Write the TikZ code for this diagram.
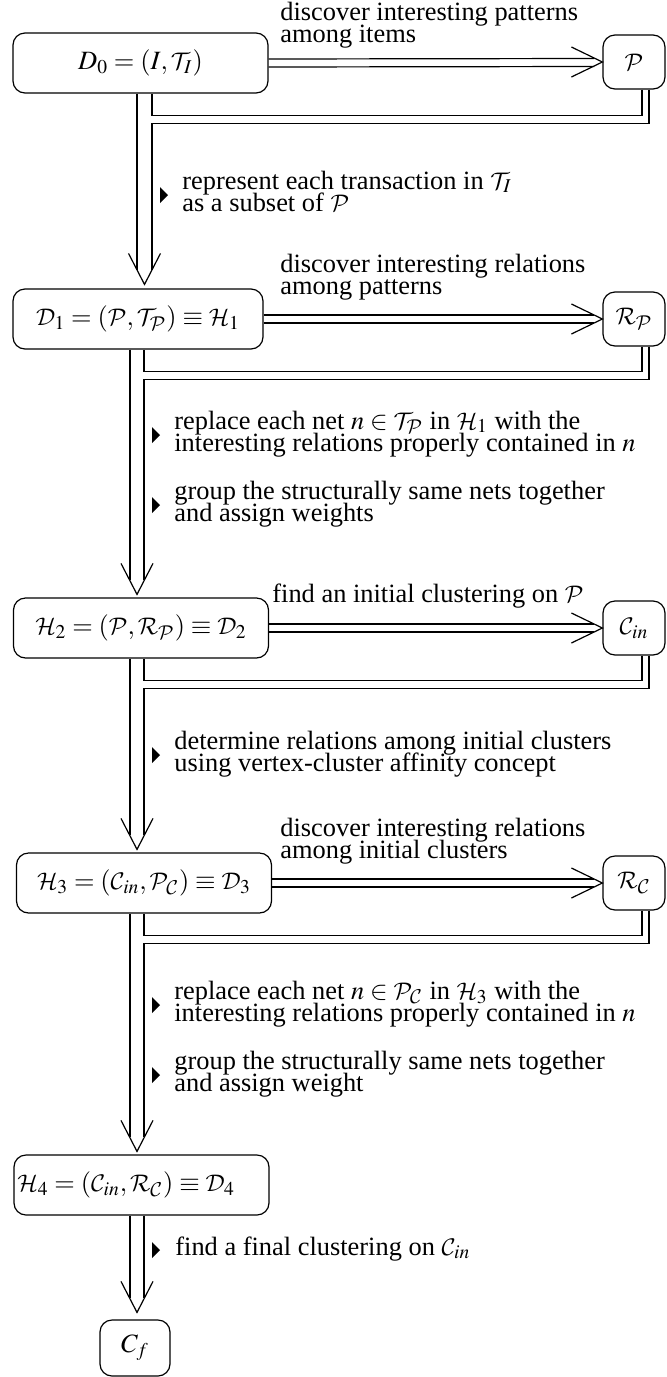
\documentclass[tikz,border=0pt]{standalone}
\usepackage{mathptmx}
\DeclareMathAlphabet{\mathcal}{OMS}{cmsy}{m}{n}
\usepackage[no-math]{fontspec}
\setmainfont{Liberation Serif}
\usetikzlibrary{calc}
\tikzset{
  conn/.style={line width=0.6pt, line join=miter},
  mainbox/.style={draw, line width=0.6pt, rounded corners=6pt, minimum width=127.5pt, minimum height=30pt, inner sep=0pt},
  sidebox/.style={draw, line width=0.6pt, rounded corners=6pt, minimum width=31pt, minimum height=27pt, inner sep=0pt},
  lbl/.style={anchor=base west, inner sep=0pt},
  tri/.style={fill=black}
}
\newcommand\chevdown[1]{\draw[conn] ($(#1)+(-16,-31)$) -- (#1) -- ($(#1)+(16,-31)$);}
\newcommand\chevright[1]{\draw[conn] ($(#1)+(-31,-15)$) -- (#1) -- ($(#1)+(-31,15)$);}
\newcommand\trimark[2]{\fill[tri] (#1,#2-8) -- (#1+8,#2) -- (#1,#2+8) -- cycle;}
\begin{document}
\begin{tikzpicture}[x=0.5pt,y=-0.5pt,font=\fontsize{13.2pt}{10.5pt}\selectfont]
\useasboundingbox (0,0) rectangle (666,1377);

% ---------- nodes ----------
\node[mainbox] (d0) at (140.5,63) {$D_0 = (I,\mathcal{T}_I)$};
\node[sidebox] (p)  at (634,62) {$\mathcal{P}$};
\node[mainbox, minimum width=125pt] (h1) at (138,319) {$\mathcal{D}_1 = (\mathcal{P},\mathcal{T}_{\mathcal{P}}) \equiv \mathcal{H}_1$};
\node[sidebox] (rp) at (634,319) {$\mathcal{R}_{\mathcal{P}}$};
\node[mainbox] (h2) at (141,628) {$\mathcal{H}_2 = (\mathcal{P},\mathcal{R}_{\mathcal{P}}) \equiv \mathcal{D}_2$};
\node[sidebox] (cin) at (634,628) {$\mathcal{C}_{in}$};
\node[mainbox] (h3) at (144,883) {$\mathcal{H}_3 = (\mathcal{C}_{in},\mathcal{P}_{\mathcal{C}}) \equiv \mathcal{D}_3$};
\node[sidebox] (rc) at (634,883) {$\mathcal{R}_{\mathcal{C}}$};
\node[mainbox] (h4) at (141.5,1185) {\makebox[126pt][l]{\hspace{1pt}$\mathcal{H}_4 = (\mathcal{C}_{in},\mathcal{R}_{\mathcal{C}}) \equiv \mathcal{D}_4$}};
\node[sidebox, minimum width=35pt, minimum height=28pt] (cf) at (135,1348) {$C_f$};

% tips of vertical arrows
\coordinate (t0) at ($(h1.north)+(6.5,-4)$);
\coordinate (t1) at ($(h2.north)+(-4,-3)$);
\coordinate (t2) at ($(h3.north)+(-7,-3)$);
\coordinate (t3) at ($(h4.north)+(-4.5,-3)$);
\coordinate (t4) at ($(cf.north)+(2,-7)$);

% ---------- row 0 ----------
\draw[conn] ($(d0.east)+(0,-4)$) -- ($(p.west)+(-8,-3.5)$);
\draw[conn] ($(d0.east)+(0,4)$) -- ($(p.west)+(-8,4.5)$);
\chevright{p.west}
\draw[conn] ($(p.south)+(8,0)$) |- ($(d0.south)+(11.5,22)$) -- ($(d0.south)+(11.5,0)$);
\draw[conn] ($(p.south)+(15,0)$) |- ($(d0.south)+(11.5,30)$) -- ($(t0)+(7.5,-14.5)$);
\draw[conn] ($(d0.south)+(-3.5,0)$) -- ($(t0)+(-7.5,-14.5)$);
\chevdown{t0}
\node[lbl] (l0a) at (280,20) {discover interesting patterns};
\node[lbl] (l0b) at (280,42) {among items};
\trimark{160}{195}
\node[lbl] (v0a) at (182,189) {represent each transaction in $\mathcal{T}_I$};
\node[lbl] (v0b) at (182,211) {as a subset of $\mathcal{P}$};

% ---------- row 1 ----------
\draw[conn] ($(h1.east)+(0,-4)$) -- ($(rp.west)+(-8,-4)$);
\draw[conn] ($(h1.east)+(0,4)$) -- ($(rp.west)+(-8,4)$);
\chevright{rp.west}
\draw[conn] ($(rp.south)+(8,0)$) |- ($(h1.south)+(6,22)$) -- ($(h1.south)+(6,0)$);
\draw[conn] ($(rp.south)+(15,0)$) |- ($(h1.south)+(6,30)$) -- ($(t1)+(7,-14)$);
\draw[conn] ($(h1.south)+(-8,0)$) -- ($(t1)+(-7,-14)$);
\chevdown{t1}
\node[lbl] (l1a) at (280,272) {discover interesting relations};
\node[lbl] (l1b) at (280,294) {among patterns};
\trimark{152}{435}
\node[lbl] (v1a) at (174,429) {replace each net $n \in \mathcal{T}_{\mathcal{P}}$ in $\mathcal{H}_1$ with the};
\node[lbl] (v1b) at (174,451) {interesting relations properly contained in $n$};
\trimark{152}{505}
\node[lbl] (v1c) at (174,499) {group the structurally same nets together};
\node[lbl] (v1d) at (174,521) {and assign weights};

% ---------- row 2 ----------
\draw[conn] ($(h2.east)+(0,-4)$) -- ($(cin.west)+(-8,-4)$);
\draw[conn] ($(h2.east)+(0,4)$) -- ($(cin.west)+(-8,4)$);
\chevright{cin.west}
\draw[conn] ($(cin.south)+(8,0)$) |- ($(h2.south)+(3,22)$) -- ($(h2.south)+(3,0)$);
\draw[conn] ($(cin.south)+(15,0)$) |- ($(h2.south)+(3,30)$) -- ($(t2)+(7,-14)$);
\draw[conn] ($(h2.south)+(-11,0)$) -- ($(t2)+(-7,-14)$);
\chevdown{t2}
\node[lbl] (l2a) at (272,602) {find an initial clustering on $\mathcal{P}$};
\trimark{152}{755}
\node[lbl] (v2a) at (174,749) {determine relations among initial clusters};
\node[lbl] (v2b) at (174,771) {using vertex-cluster affinity concept};

% ---------- row 3 ----------
\draw[conn] ($(h3.east)+(0,-4)$) -- ($(rc.west)+(-8,-4)$);
\draw[conn] ($(h3.east)+(0,4)$) -- ($(rc.west)+(-8,4)$);
\chevright{rc.west}
\draw[conn] ($(rc.south)+(8,0)$) |- ($(h3.south)+(0,22)$) -- (h3.south);
\draw[conn] ($(rc.south)+(15,0)$) |- ($(h3.south)+(0,30)$) -- ($(t3)+(7,-14)$);
\draw[conn] ($(h3.south)+(-14,0)$) -- ($(t3)+(-7,-14)$);
\chevdown{t3}
\node[lbl] (l3a) at (280,836) {discover interesting relations};
\node[lbl] (l3b) at (280,858) {among initial clusters};
\trimark{152}{1005}
\node[lbl] (v3a) at (174,999) {replace each net $n \in \mathcal{P}_{\mathcal{C}}$ in $\mathcal{H}_3$ with the};
\node[lbl] (v3b) at (174,1021) {interesting relations properly contained in $n$};
\trimark{152}{1075}
\node[lbl] (v3c) at (174,1069) {group the structurally same nets together};
\node[lbl] (v3d) at (174,1091) {and assign weight};

% ---------- row 4 ----------
\draw[conn] ($(h4.south)+(-11.5,0)$) -- ($(t4)+(-7,-14)$);
\draw[conn] ($(h4.south)+(2.5,0)$) -- ($(t4)+(7,-14)$);
\chevdown{t4}
\trimark{152}{1250}
\node[lbl] (v4a) at (175,1255) {find a final clustering on $\mathcal{C}_{in}$};
\end{tikzpicture}
\end{document}
